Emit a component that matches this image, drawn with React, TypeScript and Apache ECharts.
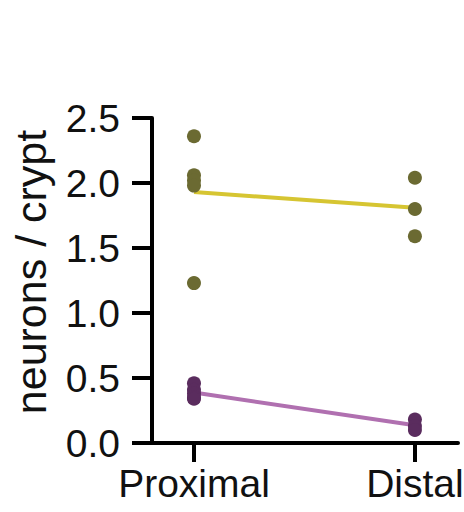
import React, { useEffect, useRef } from "react";
import * as echarts from "echarts";

// Region positions on the x value axis
const regions = ["Proximal", "Distal"];
const regionX = [0, 1];

// Neurons per crypt, one value per animal
const groupAProximal = [2.36, 2.06, 2.02, 1.98, 1.23];
const groupADistal = [2.04, 1.8, 1.59];
const groupBProximal = [0.46, 0.41, 0.38, 0.35, 0.34];
const groupBDistal = [0.18, 0.13, 0.1];

const yTicks = [0, 0.5, 1.0, 1.5, 2.0, 2.5];

const mean = (a: number[]) => a.reduce((s, v) => s + v, 0) / a.length;

const toPoints = (x: number, vals: number[]) => vals.map((v) => [x, v]);

export default function App() {
  const ref = useRef<HTMLDivElement>(null);

  useEffect(() => {
    if (!ref.current) return;
    const chart = echarts.init(ref.current, null, { renderer: "svg" });
    const font = "'Liberation Sans', Arial, Helvetica, sans-serif";
    chart.setOption({
      animation: false,
      backgroundColor: "#ffffff",
      grid: {
        left: 152,
        top: 118,
        width: 306,
        height: 325,
        containLabel: false,
        outerBoundsMode: "none",
      },
      xAxis: {
        type: "value",
        min: -0.19,
        max: 1.195,
        splitLine: { show: false },
        axisLine: { show: true, onZero: false, lineStyle: { color: "#000", width: 4 } },
        axisTick: {
          show: true,
          length: 19,
          lineStyle: { color: "#000", width: 4 },
          customValues: regionX,
        },
        axisLabel: {
          customValues: regionX,
          formatter: (v: number) => regions[regionX.indexOf(Math.round(v))] ?? "",
          color: "#111",
          fontSize: 39,
          fontFamily: font,
          margin: 21,
        },
      },
      yAxis: {
        type: "value",
        min: yTicks[0],
        max: yTicks[yTicks.length - 1],
        interval: 0.5,
        splitLine: { show: false },
        axisLine: { show: true, onZero: false, lineStyle: { color: "#000", width: 4 } },
        axisTick: { show: true, length: 20, lineStyle: { color: "#000", width: 4 } },
        axisLabel: {
          formatter: (v: number) => v.toFixed(1),
          color: "#111",
          fontSize: 39,
          fontFamily: font,
          margin: 32,
        },
      },
      graphic: [
        {
          type: "text",
          x: 31,
          y: 272,
          rotation: Math.PI / 2,
          style: {
            text: "neurons / crypt",
            fill: "#111",
            fontSize: 43,
            fontFamily: font,
            align: "center",
            verticalAlign: "middle",
          },
        },
      ],
      series: [
        {
          type: "line",
          data: [
            [regionX[0], mean(groupAProximal)],
            [regionX[1], mean(groupADistal)],
          ],
          symbol: "none",
          lineStyle: { color: "#d6c532", width: 4 },
          z: 2,
        },
        {
          type: "line",
          data: [
            [regionX[0], mean(groupBProximal)],
            [regionX[1], mean(groupBDistal)],
          ],
          symbol: "none",
          lineStyle: { color: "#b070b0", width: 4 },
          z: 2,
        },
        {
          type: "scatter",
          data: [...toPoints(regionX[0], groupAProximal), ...toPoints(regionX[1], groupADistal)],
          symbolSize: 14,
          itemStyle: { color: "#6b6a32", opacity: 1 },
          z: 3,
        },
        {
          type: "scatter",
          data: [...toPoints(regionX[0], groupBProximal), ...toPoints(regionX[1], groupBDistal)],
          symbolSize: 14,
          itemStyle: { color: "#5a2c5e", opacity: 1 },
          z: 3,
        },
      ],
    });
    return () => chart.dispose();
  }, []);

  return (
    <div
      ref={ref}
      style={{ position: "absolute", left: 0, top: 0, width: 464, height: 512 }}
    />
  );
}
